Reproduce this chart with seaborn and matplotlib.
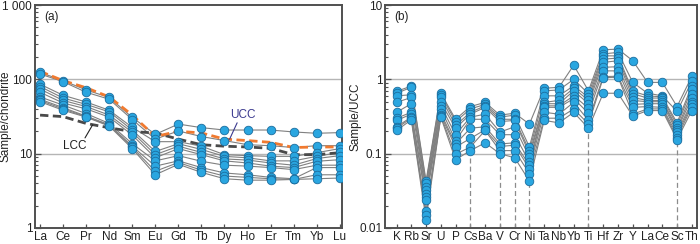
import numpy as np
import pandas as pd
import matplotlib
matplotlib.use("Agg")
import matplotlib.pyplot as plt
import seaborn as sns
from matplotlib.ticker import LogLocator, NullFormatter

sns.set_style("white")
plt.rcParams['font.family'] = ['Liberation Sans', 'DejaVu Sans']

# ---------------- Panel (a): chondrite-normalised REE ----------------
ree = ["La", "Ce", "Pr", "Nd", "Sm", "Eu", "Gd", "Tb", "Dy", "Ho", "Er", "Tm", "Yb", "Lu"]
ree_samples = {
    "S1": [124, 96, 72, 57, 30.7, 18.2, 25, 22.4, 20.8, 20.8, 20.8, 19.6, 18.8, 19.2],
    "S2": [118, 93, 67, 54, 28.8, 15.7, 20.2, 17, 15, 13.2, 12.8, 12.1, 12.8, 12.8],
    "S3": [86, 61, 49.5, 38.4, 22.6, 14.5, 14.5, 12.6, 9.7, 9.4, 9.2, 9.2, 10.3, 11.7],
    "S4": [80, 56, 46, 36.5, 20.8, 10.7, 13.6, 11.4, 9.2, 8.8, 8.0, 8.0, 9.2, 10.4],
    "S5": [74, 52, 43, 33, 19.4, 9.7, 12.6, 10.4, 8.5, 8.2, 7.5, 7.0, 8.6, 9.4],
    "S6": [67, 48, 40, 31, 17.8, 8.8, 11.7, 9.7, 8.0, 7.5, 6.8, 6.5, 7.9, 8.3],
    "S7": [58, 45, 34.6, 25.5, 13.6, 8.0, 9.4, 7.9, 7.0, 6.8, 6.5, 6.1, 7.0, 7.0],
    "S8": [54, 41.6, 32, 24.5, 12.6, 6.8, 8.0, 6.5, 5.5, 5.2, 4.8, 4.6, 6.5, 6.5],
    "S9": [52, 40, 31.5, 24, 12.2, 5.8, 7.6, 6.0, 5.0, 4.8, 4.6, 4.5, 5.2, 5.2],
    "S10": [50, 38.4, 31, 23.5, 11.7, 5.2, 7.2, 5.6, 4.6, 4.4, 4.4, 4.5, 4.6, 4.7],
}
ucc_ree = [128, 96, 77, 58, 33, 17, 20, 19, 15.7, 15, 14.2, 12.1, 12.3, 12.3]
lcc_ree = [33, 31.5, 25.5, 22.3, 19.8, 19, 15.7, 13.2, 12.6, 12.3, 11.8, 9.7, 9.7, 10.3]

# ---------------- Panel (b): UCC-normalised trace elements ----------------
trace = ["K", "Rb", "Sr", "U", "P", "Cs", "Ba", "V", "Cr", "Ni", "Ta", "Nb", "Yb",
         "Ti", "Hf", "Zr", "Y", "La", "Ce", "Sc", "Th"]
trace_cols = {
    "K":  [0.69, 0.65, 0.60, 0.49, 0.36, 0.30, 0.28, 0.23, 0.22, 0.205],
    "Rb": [0.81, 0.78, 0.62, 0.57, 0.47, 0.36, 0.34, 0.31, 0.30, 0.285],
    "Sr": [0.043, 0.040, 0.036, 0.032, 0.029, 0.026, 0.024, 0.017, 0.015, 0.013],
    "U":  [0.65, 0.62, 0.57, 0.49, 0.44, 0.40, 0.35, 0.33, 0.32, 0.31],
    "P":  [0.29, 0.27, 0.24, 0.22, 0.18, 0.15, 0.135, 0.123, 0.098, 0.083],
    "Cs": [0.43, 0.40, 0.36, 0.34, 0.31, 0.29, 0.22, 0.16, 0.123, 0.11],
    "Ba": [0.49, 0.46, 0.44, 0.42, 0.34, 0.29, 0.23, 0.21, 0.205, 0.14],
    "V":  [0.33, 0.31, 0.29, 0.27, 0.195, 0.18, 0.135, 0.125, 0.11, 0.10],
    "Cr": [0.35, 0.33, 0.29, 0.28, 0.23, 0.18, 0.14, 0.13, 0.11, 0.088],
    "Ni": [0.25, 0.123, 0.11, 0.10, 0.09, 0.077, 0.07, 0.063, 0.054, 0.043],
    "Ta": [0.76, 0.70, 0.60, 0.49, 0.47, 0.44, 0.42, 0.36, 0.30, 0.28],
    "Nb": [0.78, 0.72, 0.60, 0.52, 0.47, 0.44, 0.42, 0.34, 0.30, 0.26],
    "Yb": [1.55, 1.0, 0.82, 0.76, 0.70, 0.60, 0.55, 0.49, 0.40, 0.36],
    "Ti": [0.70, 0.64, 0.57, 0.52, 0.47, 0.41, 0.35, 0.28, 0.25, 0.22],
    "Hf": [2.5, 2.2, 2.07, 1.87, 1.69, 1.45, 1.3, 1.09, 1.05, 0.65],
    "Zr": [2.55, 2.3, 2.07, 1.93, 1.78, 1.48, 1.3, 1.1, 1.07, 0.65],
    "Y":  [1.78, 0.91, 0.69, 0.64, 0.57, 0.52, 0.46, 0.42, 0.34, 0.32],
    "La": [0.91, 0.65, 0.60, 0.56, 0.52, 0.50, 0.47, 0.43, 0.40, 0.38],
    "Ce": [0.91, 0.60, 0.58, 0.56, 0.52, 0.50, 0.47, 0.42, 0.40, 0.38],
    "Sc": [0.43, 0.37, 0.26, 0.24, 0.22, 0.21, 0.195, 0.18, 0.165, 0.155],
    "Th": [1.1, 0.94, 0.82, 0.74, 0.64, 0.56, 0.49, 0.46, 0.43, 0.38],
}
drop_elements = ["Cs", "V", "Cr", "Ni", "Ti", "Sc"]

# ---------------- long-form tables ----------------
rows_a = []
for s, vals in ree_samples.items():
    for i, (el, v) in enumerate(zip(ree, vals)):
        rows_a.append({"sample": s, "pos": i, "el": el, "val": v})
df_a = pd.DataFrame(rows_a)
ref_a = pd.DataFrame({"pos": np.arange(len(ree)), "UCC": ucc_ree, "LCC": lcc_ree})

rows_b = []
nsamp = len(trace_cols["K"])
for j in range(nsamp):
    for i, el in enumerate(trace):
        rows_b.append({"sample": f"T{j}", "pos": i, "el": el, "val": trace_cols[el][j]})
df_b = pd.DataFrame(rows_b)

fig = plt.figure(figsize=(7.0, 2.44), dpi=100)
ax1 = fig.add_axes([35 / 700, 16 / 244, 307 / 700, 223 / 244])
ax2 = fig.add_axes([385 / 700, 16 / 244, 312 / 700, 223 / 244])

fill_c = "#2aa6e0"
edge_c = "#1b6d9e"
line_c = "#808080"
spine_c = "#505050"
FS = 8.5

def style_axis(ax, ylim, labels, ylabel, ticklabels, label_x):
    ax.set_yscale("log")
    ax.set_ylim(*ylim)
    ax.grid(False)
    for sp in ax.spines.values():
        sp.set_color(spine_c)
        sp.set_linewidth(1.4)
    ax.yaxis.set_minor_locator(LogLocator(base=10, subs=np.arange(2, 10), numticks=50))
    ax.yaxis.set_minor_formatter(NullFormatter())
    decades = [ylim[0] * 10 ** k for k in range(4)]
    ax.set_yticks(decades)
    ax.set_yticklabels(ticklabels, fontsize=FS, color="#222222")
    ax.tick_params(axis="y", which="major", direction="in", length=4, width=0.9,
                   color=spine_c, pad=2, left=True, right=False)
    ax.tick_params(axis="y", which="minor", direction="in", length=2.5, width=0.8,
                   color=spine_c, left=True, right=False)
    ax.set_xticks(np.arange(len(labels)))
    ax.set_xticklabels(labels, fontsize=FS, color="#222222")
    ax.tick_params(axis="x", which="major", direction="in", length=3, width=0.9,
                   color=spine_c, pad=2, bottom=True, top=False)
    ax.set_xlabel("")
    ax.set_ylabel(ylabel, fontsize=FS, color="#222222")
    ax.yaxis.set_label_coords(label_x, 0.5)
    for g in decades[1:3]:
        ax.axhline(g, color="#b5b5b5", lw=1.0, zorder=0.5)

# ---- panel (a)
sns.lineplot(data=df_a, x="pos", y="val", units="sample", estimator=None,
             color=line_c, lw=0.8, ax=ax1, legend=False, zorder=2)
sns.lineplot(data=ref_a, x="pos", y="LCC", color="#4a4a4a", lw=2.0, ax=ax1,
             zorder=3, legend=False)
ax1.lines[-1].set_dashes([3, 1.6])
sns.lineplot(data=ref_a, x="pos", y="UCC", color="#f07a30", lw=2.0, ax=ax1,
             zorder=3.5, legend=False)
ax1.lines[-1].set_dashes([3, 1.6])
sns.scatterplot(data=df_a, x="pos", y="val", s=38, color=fill_c, edgecolor=edge_c,
                linewidth=0.6, ax=ax1, zorder=4, legend=False)
ax1.set_xlim(-0.22, 13.1)
style_axis(ax1, (1, 1000), ree, "Sample/chondrite", ["1", "10", "100", "1 000"],
           -24 / 307)
ax1.text(0.03, 0.975, "(a)", transform=ax1.transAxes, fontsize=FS, va="top", ha="left",
         color="#222222")
ax1.text(8.8, 33, "UCC", fontsize=FS, color="#3b3a8f", ha="center", va="center")
ax1.plot([8.55, 8.22], [26, 15.6], color="#3b3a8f", lw=0.8, zorder=5)
ax1.text(1.5, 12.8, "LCC", fontsize=FS, color="#222222", ha="center", va="center")
ax1.plot([1.95, 2.28], [16.3, 24.4], color="#222222", lw=0.8, zorder=5)

# ---- panel (b)
for el in drop_elements:
    i = trace.index(el)
    ax2.vlines(i, 0.01, min(trace_cols[el]), colors="#8c8c8c", linestyles=(0, (4, 2.5)),
               lw=0.9, zorder=1)
sns.lineplot(data=df_b, x="pos", y="val", units="sample", estimator=None,
             color=line_c, lw=0.8, ax=ax2, legend=False, zorder=2)
sns.scatterplot(data=df_b, x="pos", y="val", s=38, color=fill_c, edgecolor=edge_c,
                linewidth=0.6, ax=ax2, zorder=4, legend=False)
ax2.set_xlim(-0.78, 20.35)
style_axis(ax2, (0.01, 10), trace, "Sample/UCC", ["0.01", "0.1", "1", "10"],
           -24 / 312)
ax2.text(0.03, 0.975, "(b)", transform=ax2.transAxes, fontsize=FS, va="top", ha="left",
         color="#222222")

fig.savefig("out.png", dpi=100)
